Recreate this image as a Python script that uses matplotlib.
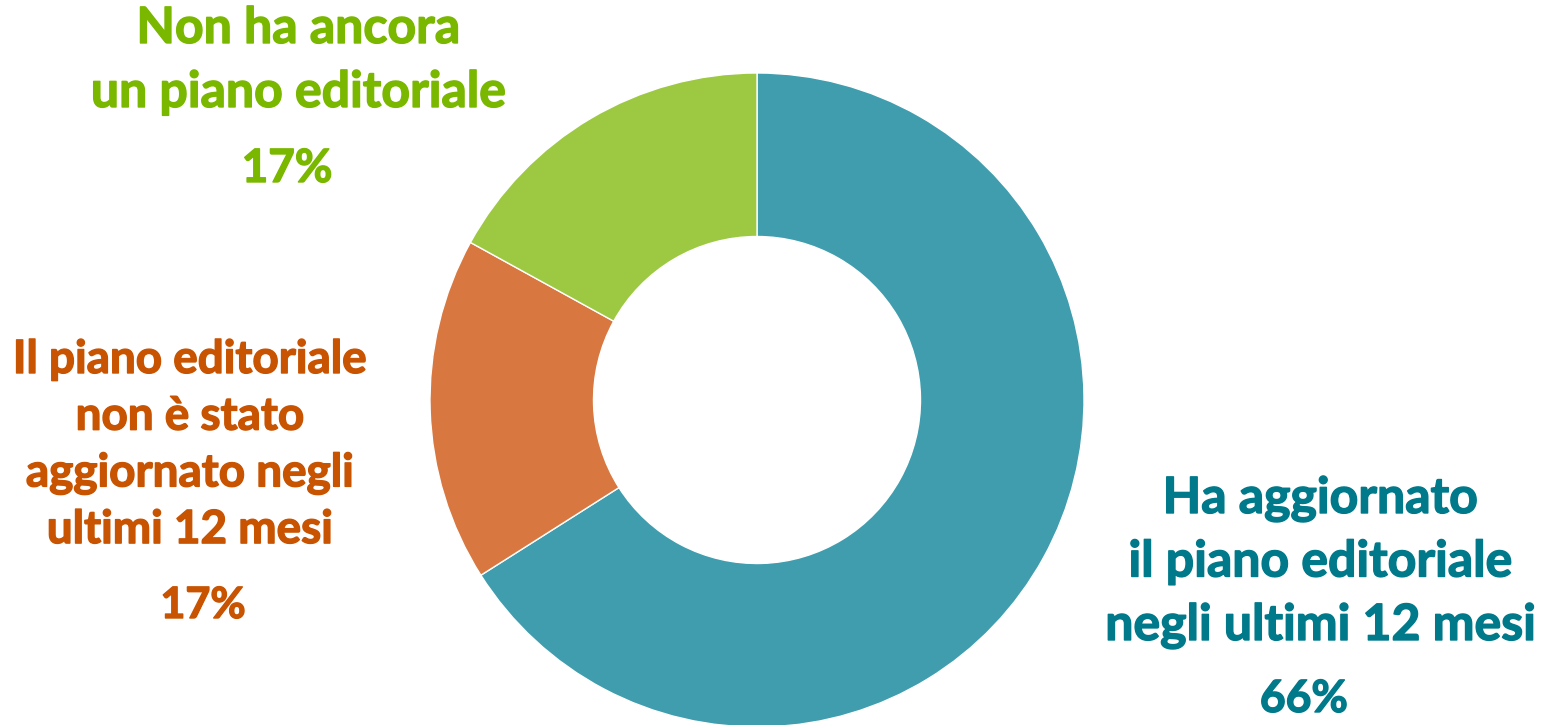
import matplotlib.pyplot as plt
import matplotlib.patheffects as pe

# Data
values = [66, 17, 17]
labels = ['Ha aggiornato\nil piano editoriale\nnegli ultimi 12 mesi',
          'Il piano editoriale\nnon è stato\naggiornato negli\nultimi 12 mesi',
          'Non ha ancora\nun piano editoriale']
pcts = ['66%', '17%', '17%']
wedge_colors = ['#409DAE', '#D87840', '#9DC942']
text_colors = ['#007A8A', '#C85300', '#7AB800']

W, H = 1544, 725
fig = plt.figure(figsize=(W / 100, H / 100), dpi=100)

# Donut: center (757, 400) px, outer radius 327 px
cx, cy, r = 757, 400, 327
ax = fig.add_axes([(cx - r) / W, (H - cy - r) / H, 2 * r / W, 2 * r / H])
ax.pie(values, colors=wedge_colors, startangle=90, counterclock=False,
       radius=1, wedgeprops=dict(width=0.5, edgecolor='white', linewidth=1))
ax.set_xlim(-1, 1)
ax.set_ylim(-1, 1)
ax.set_aspect('equal')
ax.axis('off')

font = 'Lato'

def put(x, y, s, color, size):
    # slight stroke in the same colour to get closer to the heavy original weight
    fig.text(x / W, 1 - y / H, s, ha='center', va='baseline', color=color,
             fontsize=size, fontweight='bold', family=font,
             path_effects=[pe.withStroke(linewidth=1.0, foreground=color)])

# label blocks: x center, first baseline, line step, size, pct (x, baseline, size)
layout = [
    (1320, 513, 63.5, 36, (1304, 712, 32)),
    (190, 373, 56.7, 33, (203, 618, 31)),
    (298, 43, 64, 36, (287, 182, 33)),
]
for lab, pct, col, (x, y0, dy, size, (px, py, ps)) in zip(labels, pcts, text_colors, layout):
    for i, line in enumerate(lab.split('\n')):
        put(x, y0 + i * dy, line, col, size)
    put(px, py, pct, col, ps)

fig.savefig('out.png', dpi=100)
